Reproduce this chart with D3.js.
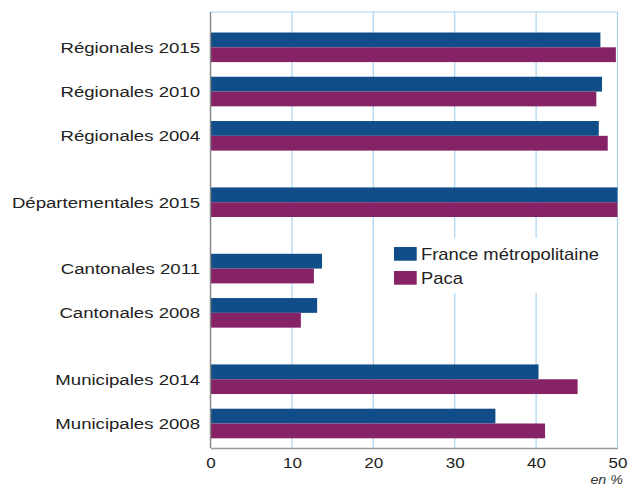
<!DOCTYPE html>
<html>
<head>
<meta charset="utf-8">
<script src="https://cdn.jsdelivr.net/npm/d3@7"></script>
<style>
    body { margin: 0; background: #fff; }
    svg { display: block; font-family: "Liberation Sans", Arial, sans-serif; }
</style>
</head>
<body>
<svg id="chart" width="640" height="486"></svg>
<script>
// Election groups, top to bottom
const sections = [
    ["Régionales 2015", "Régionales 2010", "Régionales 2004"],
    ["Départementales 2015"],
    ["Cantonales 2011", "Cantonales 2008"],
    ["Municipales 2014", "Municipales 2008"],
];
const franceValues = [47.9, 48.1, 47.7, 50, 13.7, 13.1, 40.3, 35.0];
const pacaValues = [49.8, 47.4, 48.8, 50, 12.7, 11.1, 45.1, 41.1];
const seriesNames = ["France métropolitaine", "Paca"];
const xTicks = [0, 10, 20, 30, 40, 50];

const colors = ["#114e89", "#862366"];

// Rows: one step per election, half a step between sections
const rows = [];
let rowIndex = 0;
sections.forEach((section, s) => {
    if (s > 0) {
        rowIndex += 0.5;
    }
    section.forEach((name) => {
        rows.push({ name, row: rowIndex });
        rowIndex += 1;
    });
});
rows.forEach((d, i) => {
    d.values = [franceValues[i], pacaValues[i]];
});

const plot = { left: 210.5, right: 617.5, top: 12, bottom: 448 };
const barHeight = 14.8;

const svg = d3.select("#chart");

const x = d3.scaleLinear().domain([0, 50]).range([plot.left, plot.right]);
const y = d3
    .scaleLinear()
    .domain([0, rowIndex - 1])
    .range([47.3, 423.5]);

// Grid
const grid = svg.append("g").attr("class", "grid");
grid.selectAll("line.v")
    .data(xTicks.slice(1))
    .join("line")
    .attr("class", "v")
    .attr("x1", (d) => x(d))
    .attr("x2", (d) => x(d))
    .attr("y1", plot.top)
    .attr("y2", plot.bottom)
    .attr("stroke", "#a9d2ee")
    .attr("stroke-width", 1.2);
grid.append("line")
    .attr("x1", plot.left)
    .attr("x2", x(50))
    .attr("y1", plot.top)
    .attr("y2", plot.top)
    .attr("stroke", "#a9d2ee")
    .attr("stroke-width", 1.2);

// Bars
const barGroups = svg
    .append("g")
    .attr("class", "data")
    .selectAll("g")
    .data(rows)
    .join("g")
    .attr("transform", (d) => `translate(0,${y(d.row)})`);

barGroups
    .selectAll("rect")
    .data((d) => d.values)
    .join("rect")
    .attr("x", x(0))
    .attr("y", (d, i) => (i === 0 ? -barHeight : 0))
    .attr("width", (d) => x(d) - x(0))
    .attr("height", barHeight)
    .attr("fill", (d, i) => colors[i]);

// Category labels (the source type is a bit wider than Arial)
svg.append("g")
    .selectAll("text")
    .data(rows)
    .join("text")
    .attr("transform", (d) => `translate(200,${y(d.row)}) scale(1.2,1)`)
    .attr("dy", "0.35em")
    .attr("text-anchor", "end")
    .attr("font-size", 15.5)
    .attr("fill", "#222")
    .text((d) => d.name);

// Axes
const xAxis = d3
    .axisBottom(x)
    .tickValues(xTicks)
    .tickSize(0)
    .tickPadding(9)
    .tickFormat((d) => d);
const axisG = svg
    .append("g")
    .attr("class", "axis x")
    .attr("transform", `translate(0,${plot.bottom})`)
    .call(xAxis);
axisG.select(".domain").attr("stroke", "#999").attr("stroke-width", 1.5);
axisG.selectAll("text")
    .attr("font-size", 15.5)
    .attr("fill", "#222")
    .attr("font-family", null)
    .attr("transform", "scale(1.1,1)");

svg.append("line")
    .attr("x1", plot.left)
    .attr("x2", plot.left)
    .attr("y1", plot.top)
    .attr("y2", plot.bottom)
    .attr("stroke", "#888")
    .attr("stroke-width", 1.5);

svg.append("text")
    .attr("transform", "translate(623,484) scale(1.1,1)")
    .attr("text-anchor", "end")
    .attr("font-size", 13)
    .attr("font-style", "italic")
    .attr("fill", "#333")
    .text("en %");

// Legend
const legend = svg.append("g").attr("class", "legend");
legend.append("rect")
    .attr("x", 380)
    .attr("y", 238)
    .attr("width", 230)
    .attr("height", 55)
    .attr("fill", "#fff");
const items = legend
    .selectAll("g")
    .data(seriesNames)
    .join("g")
    .attr("transform", (d, i) => `translate(394,${247 + i * 24})`);
items.append("rect")
    .attr("width", 22.7)
    .attr("height", 13.7)
    .attr("fill", (d, i) => colors[i]);
items.append("text")
    .attr("transform", "translate(27,13.3) scale(1.15,1)")
    .attr("font-size", 16)
    .attr("fill", "#222")
    .text((d) => d);
</script>
</body>
</html>
